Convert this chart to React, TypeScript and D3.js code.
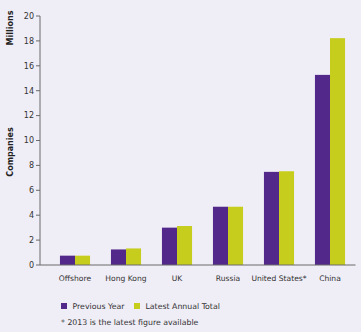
import React from "react";
import * as d3 from "d3";

const categories = ["Offshore", "Hong Kong", "UK", "Russia", "United States*", "China"];
const previousYear = [0.75, 1.25, 3.0, 4.68, 7.48, 15.27];
const latestAnnual = [0.75, 1.33, 3.13, 4.68, 7.53, 18.22];
const yTicks = [0, 2, 4, 6, 8, 10, 12, 14, 16, 18, 20];
const seriesNames = ["Previous Year", "Latest Annual Total"];

const W = 361;
const H = 332;
const BG = "#efedf6";
const PURPLE = "#52298a";
const GREEN = "#c6cd1d";
const FONT = "'DejaVu Sans', Verdana, sans-serif";

export default function App() {
  const axisX = 40;
  const x = d3.scaleBand<string>().domain(categories).range([49.5, 355.5]).paddingInner(0.41).paddingOuter(0.205);
  const y = d3.scaleLinear().domain([0, 20]).range([265, 16]);
  const bw = x.bandwidth() / 2;
  const series = [previousYear, latestAnnual];
  const colors = [PURPLE, GREEN];

  return (
    <div style={{ position: "absolute", left: 0, top: 0, width: W, height: H }}>
      <svg width={W} height={H} style={{ display: "block", background: BG }} fontFamily={FONT}>
        <rect x={0} y={0} width={W} height={H} fill={BG} />
        {series.map((s, si) =>
          s.map((v, i) => (
            <rect
              key={`${si}-${i}`}
              x={(x(categories[i]) as number) + si * bw}
              y={y(v)}
              width={bw}
              height={y(0) - y(v)}
              fill={colors[si]}
            />
          ))
        )}
        <line x1={axisX} x2={axisX} y1={y(20)} y2={y(0)} stroke="#6a6a6a" strokeWidth={1} />
        {yTicks.map((t) => (
          <g key={t}>
            <line x1={axisX - 4} x2={axisX} y1={y(t)} y2={y(t)} stroke="#6a6a6a" strokeWidth={1} />
            <text x={axisX - 6} y={y(t)} dy="0.35em" textAnchor="end" fontSize={8} fill="#333">
              {t}
            </text>
          </g>
        ))}
        <line x1={axisX} x2={355.5} y1={y(0)} y2={y(0)} stroke="#6a6a6a" strokeWidth={1} />
        {categories.map((c) => (
          <text
            key={c}
            x={(x(c) as number) + x.bandwidth() / 2}
            y={281}
            textAnchor="middle"
            fontSize={7.6}
            fill="#333"
          >
            {c}
          </text>
        ))}
        <text transform="translate(13,28) rotate(-90)" textAnchor="middle" fontSize={8} fontWeight="bold" fill="#222">
          Millions
        </text>
        <text transform="translate(13,152) rotate(-90)" textAnchor="middle" fontSize={8} fontWeight="bold" fill="#222">
          Companies
        </text>
        {seriesNames.map((n, i) => {
          const lx = i === 0 ? 61 : 134;
          return (
            <g key={n}>
              <rect x={lx} y={303} width={6} height={6} fill={colors[i]} />
              <text x={lx + 11.5} y={309} fontSize={7.8} fill="#333">
                {n}
              </text>
            </g>
          );
        })}
        <text x={61} y={325} fontSize={7.8} fill="#333">
          * 2013 is the latest figure available
        </text>
      </svg>
    </div>
  );
}
